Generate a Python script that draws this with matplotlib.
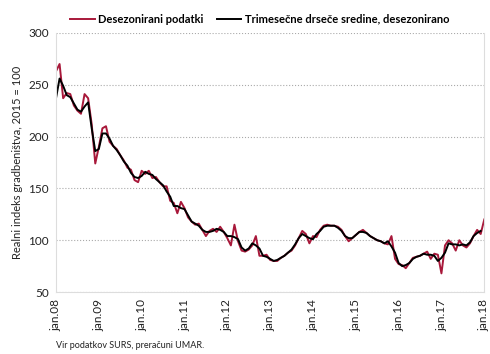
import matplotlib
matplotlib.use("Agg")
from matplotlib import pyplot as plt

plt.rcParams['font.family'] = ['Lato', 'DejaVu Sans']

# mesečni podatki, jan.08 - jan.18
desezonirani = [263, 270, 237, 242, 241, 230, 225, 222, 241, 237, 212, 174,
                190, 208, 210, 195, 191, 188, 182, 177, 170, 168, 158, 156,
                167, 164, 167, 160, 161, 156, 152, 152, 138, 136, 126, 137,
                131, 122, 118, 115, 116, 110, 104, 109, 111, 108, 113, 108,
                102, 95, 115, 99, 90, 89, 91, 95, 104, 85, 85, 86,
                81, 80, 80, 83, 85, 88, 90, 95, 102, 109, 106, 97,
                104, 103, 110, 114, 115, 114, 114, 113, 110, 104, 99, 102,
                105, 108, 110, 107, 104, 102, 100, 99, 97, 96, 104, 82,
                77, 76, 73, 78, 83, 84, 85, 87, 89, 82, 87, 86,
                68, 95, 100, 97, 90, 100, 95, 93, 97, 104, 110, 106,
                120]
drsece = [237, 256, 249, 240, 238, 232, 226, 224, 229, 233, 208, 186,
          188, 203, 203, 198, 191, 187, 182, 176, 172, 165, 161, 160,
          162, 166, 164, 163, 159, 156, 153, 147, 142, 133, 133, 131,
          130, 124, 118, 116, 114, 110, 108, 108, 109, 111, 110, 108,
          104, 104, 103, 101, 93, 90, 92, 97, 95, 92, 85, 84,
          82, 80, 81, 83, 85, 88, 91, 96, 102, 106, 104, 102,
          101, 106, 109, 113, 114, 114, 114, 112, 109, 104, 102, 102,
          105, 108, 108, 107, 104, 102, 100, 99, 97, 99, 94, 88,
          78, 75, 76, 78, 82, 84, 85, 87, 86, 86, 85, 80,
          83, 88, 97, 96, 96, 95, 96, 95, 98, 104, 107, 109]
leta = ['jan.08', 'jan.09', 'jan.10', 'jan.11', 'jan.12', 'jan.13',
        'jan.14', 'jan.15', 'jan.16', 'jan.17', 'jan.18']

fig = plt.figure(figsize=(4.9, 3.54), dpi=100)
ax = fig.add_axes([0.1143, 0.175, 0.874, 0.732])

ax.plot(range(len(desezonirani)), desezonirani, color='#A8183A', lw=1.4,
        label='Desezonirani podatki')
ax.plot(range(len(drsece)), drsece, color='black', lw=1.4,
        label='Trimesečne drseče sredine, desezonirano')

ax.set_xlim(0, 120)
ax.set_ylim(50, 300)
ax.set_yticks([50, 100, 150, 200, 250, 300])
ax.set_xticks(range(0, 121, 12))
ax.set_xticklabels(leta, rotation=90)
ax.tick_params(length=0, labelsize=8.5, colors='#222222', pad=5)
ax.grid(axis='y', color='#aaaaaa', ls=':', lw=0.8)
ax.set_axisbelow(True)
for s in ['left', 'bottom', 'right']:
    ax.spines[s].set_color('#dddddd')
ax.spines['top'].set_visible(False)

ax.set_ylabel('Realni indeks gradbeništva, 2015 = 100', fontsize=8, color='#222222')

leg = fig.legend(loc='upper center', bbox_to_anchor=(0.53, 0.99), ncol=2,
                 frameon=False, fontsize=8, handlelength=2.2, columnspacing=1.2,
                 handletextpad=0.3)
for t in leg.get_texts():
    t.set_fontweight('bold')

fig.text(0.1143, 0.025, 'Vir podatkov SURS, preračuni UMAR.', fontsize=6.5,
         color='#222222', va='center')

fig.savefig('out.png', dpi=100)
